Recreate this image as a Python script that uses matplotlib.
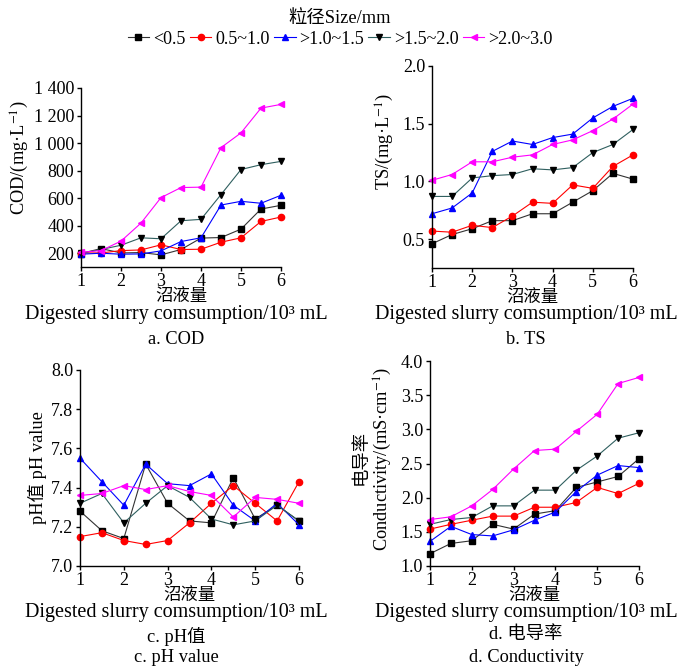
import matplotlib.pyplot as plt
from matplotlib.lines import Line2D

plt.rcParams['font.family'] = ['Liberation Serif', 'Noto Sans CJK SC']
plt.rcParams['mathtext.fontset'] = 'stix'

W, H = 680, 671

# dados
x = [1, 1.5, 2, 2.5, 3, 3.5, 4, 4.5, 5, 5.5, 6]
labels = ['<0.5', '0.5~1.0', '>1.0~1.5', '>1.5~2.0', '>2.0~3.0']

cod_a = [198, 234, 202, 205, 188, 227, 310, 314, 375, 521, 548]
cod_b = [202, 202, 219, 224, 261, 227, 229, 280, 312, 431, 463]
cod_c = [193, 200, 193, 195, 217, 285, 312, 550, 577, 563, 621]
cod_d = [200, 227, 258, 312, 305, 436, 446, 626, 808, 843, 867]
cod_e = [207, 219, 288, 419, 604, 677, 680, 967, 1074, 1254, 1281]

ts_a = [0.46, 0.54, 0.59, 0.66, 0.66, 0.72, 0.72, 0.82, 0.92, 1.07, 1.02]
ts_b = [0.57, 0.56, 0.62, 0.60, 0.70, 0.82, 0.81, 0.97, 0.94, 1.13, 1.23]
ts_c = [0.72, 0.77, 0.90, 1.26, 1.35, 1.32, 1.38, 1.41, 1.55, 1.65, 1.72]
ts_d = [0.87, 0.87, 1.03, 1.05, 1.06, 1.11, 1.10, 1.12, 1.25, 1.32, 1.45]
ts_e = [1.01, 1.06, 1.17, 1.17, 1.21, 1.23, 1.32, 1.36, 1.44, 1.54, 1.67]

ph_a = [7.28, 7.18, 7.14, 7.52, 7.32, 7.23, 7.22, 7.45, 7.24, 7.31, 7.23]
ph_b = [7.15, 7.17, 7.13, 7.11, 7.13, 7.22, 7.32, 7.41, 7.32, 7.23, 7.43]
ph_c = [7.55, 7.43, 7.31, 7.52, 7.42, 7.41, 7.47, 7.31, 7.23, 7.32, 7.21]
ph_d = [7.32, 7.37, 7.22, 7.32, 7.41, 7.35, 7.24, 7.21, 7.23, 7.31, 7.23]
ph_e = [7.36, 7.37, 7.41, 7.39, 7.41, 7.38, 7.36, 7.25, 7.35, 7.34, 7.32]

ec_a = [1.18, 1.33, 1.37, 1.61, 1.54, 1.76, 1.81, 2.15, 2.23, 2.31, 2.57]
ec_b = [1.54, 1.61, 1.67, 1.73, 1.73, 1.86, 1.86, 1.93, 2.15, 2.06, 2.21]
ec_c = [1.36, 1.58, 1.46, 1.44, 1.53, 1.67, 1.79, 2.09, 2.33, 2.47, 2.44]
ec_d = [1.61, 1.68, 1.71, 1.88, 1.88, 2.11, 2.11, 2.40, 2.61, 2.87, 2.95]
ec_e = [1.68, 1.72, 1.88, 2.12, 2.42, 2.69, 2.71, 2.97, 3.22, 3.67, 3.76]

# estilos das séries: (marcador, cor do marcador, cor da linha)
estilos = [('s', 'black', '#333333'),
           ('o', 'red', 'red'),
           ('^', 'blue', 'blue'),
           ('v', 'black', '#2f5f5f'),
           ('<', 'magenta', 'magenta')]

fs = 13.2  # tamanho da fonte

fig = plt.figure(figsize=(W / 100, H / 100), dpi=100)


def eixo(l, r, t, b):
    return fig.add_axes([l / W, 1 - b / H, (r - l) / W, (b - t) / H])


def painel(ax, series, ylim, yticks, yticklabels):
    for ys, (m, mc, lc) in zip(series, estilos):
        ax.plot(x, ys, color=lc, lw=0.8, marker=m, ms=4.5,
                mfc=mc, mec=mc, clip_on=False)
    ax.set_xlim(1, 6)
    ax.set_ylim(*ylim)
    ax.set_xticks([1, 2, 3, 4, 5, 6])
    ax.set_yticks(yticks)
    ax.set_yticklabels(yticklabels)
    ax.spines['top'].set_visible(False)
    ax.spines['right'].set_visible(False)
    ax.spines['left'].set_linewidth(1.0)
    ax.spines['bottom'].set_linewidth(1.0)
    ax.tick_params(direction='out', length=3, width=1.0, labelsize=13, pad=1)
    ax.tick_params(axis='y', pad=2)


def texto(px, py, s, size=fs, rot=0):
    fig.text(px / W, 1 - py / H, s, ha='center', va='center',
             fontsize=size, rotation=rot)


# a. COD
ax = eixo(81, 281, 88, 267)
painel(ax, [cod_a, cod_b, cod_c, cod_d, cod_e], (100, 1400),
       [200, 400, 600, 800, 1000, 1200, 1400],
       ['200', '400', '600', '800', '1 000', '1 200', '1 400'])
texto(20, 158, 'COD/(mg·L$^{-1}$)', rot=90)

# b. TS
ax = eixo(432, 633, 66, 268)
painel(ax, [ts_a, ts_b, ts_c, ts_d, ts_e], (0.25, 2.0),
       [0.5, 1.0, 1.5, 2.0], ['0.5', '1.0', '1.5', '2.0'])
texto(385, 141, 'TS/(mg·L$^{-1}$)', rot=90)

# c. pH
ax = eixo(80, 299, 370, 566)
painel(ax, [ph_a, ph_b, ph_c, ph_d, ph_e], (7.0, 8.0),
       [7.0, 7.2, 7.4, 7.6, 7.8, 8.0],
       ['7.0', '7.2', '7.4', '7.6', '7.8', '8.0'])
texto(37, 468, 'pH值 pH value', rot=90)

# d. condutividade
ax = eixo(430, 639, 361, 566)
painel(ax, [ec_a, ec_b, ec_c, ec_d, ec_e], (1.0, 4.0),
       [1.0, 1.5, 2.0, 2.5, 3.0, 3.5, 4.0],
       ['1.0', '1.5', '2.0', '2.5', '3.0', '3.5', '4.0'])
texto(361, 457, '电导率', rot=90)
texto(383, 459, 'Conductivity/(mS·cm$^{-1}$)', rot=90)

xlab = 'Digested slurry comsumption/10³ mL'
texto(181, 297, '沼液量', size=12.5)
texto(176, 314, xlab, size=14.5)
texto(176, 340, 'a. COD')
texto(532, 298, '沼液量', size=12.5)
texto(526, 314, xlab, size=14.5)
texto(526, 340, 'b. TS')
texto(189, 596, '沼液量', size=12.5)
texto(176, 613, xlab, size=14.5)
texto(176, 636, 'c. pH值')
texto(176, 657, 'c. pH value')
texto(534, 596, '沼液量', size=12.5)
texto(526, 613, xlab, size=14.5)
texto(526, 634, 'd. 电导率')
texto(526, 657, 'd. Conductivity')

# legenda
handles = [Line2D([], [], color=lc, lw=0.8, marker=m, ms=4.5, mfc=mc, mec=mc)
           for m, mc, lc in estilos]
leg = fig.legend(handles, labels, loc='center', bbox_to_anchor=(340 / W, 1 - 29 / H),
                 ncol=5, frameon=False, fontsize=13, title='粒径Size/mm',
                 title_fontsize=fs, handlelength=1.2, handletextpad=0.2,
                 columnspacing=0.25, borderpad=0, labelspacing=0.2)

plt.savefig('out.png', dpi=100)
plt.close()
